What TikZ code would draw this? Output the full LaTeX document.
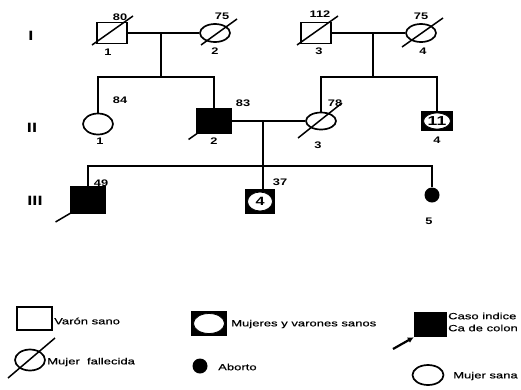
\documentclass[tikz,border=0pt]{standalone}
\usepackage{fontspec}
\setmainfont{Liberation Sans}
\newfontfamily\wf[FakeStretch=1.35]{Liberation Sans}
\newfontfamily\lf[FakeStretch=1.45,FakeBold=0.4]{Liberation Sans}
\usetikzlibrary{shapes.geometric,arrows.meta,calc}
\begin{document}
\begin{tikzpicture}[x=1pt,y=-1pt,
  ln/.style={line width=2.2pt},
  male/.style={draw,line width=1.9pt,rectangle,minimum width=30pt,minimum height=21pt,inner sep=0pt},
  female/.style={draw,line width=1.7pt,ellipse,minimum width=30pt,minimum height=18pt,inner sep=0pt},
  aff/.style={fill=black},
  multi/.style={draw,line width=1.6pt,rectangle,fill=black,inner sep=0pt},
  inner/.style={ellipse,fill=white,draw=black,line width=0.8pt,inner sep=0pt},
  dead/.style={line width=1.5pt},
  num/.style={font=\wf\bfseries\fontsize{9.5}{10}\selectfont,inner sep=0pt},
  gen/.style={font=\wf\bfseries\fontsize{13.5}{14}\selectfont,inner sep=0pt},
  leg/.style={font=\lf\fontsize{9}{12}\selectfont,inner sep=0pt,anchor=west,align=left},
]
\path[use as bounding box] (0,0) rectangle (521,389);

% generation labels
\node[gen] (gI) at (31,36) {I};
\node[gen] (gII) at (32,128) {II};
\node[gen] (gIII) at (35,201) {III};

% generation I
\node[male] (i1) at (112,33) {};
\node[female] (i2) at (215,33) {};
\node[male] (i3) at (316,33) {};
\node[female] (i4) at (421,33) {};
\draw[dead] ($(i1)+(-20,12)$) -- ($(i1)+(21,-17)$);
\draw[dead] ($(i2)+(-14,12)$) -- ($(i2)+(22,-14)$);
\draw[dead] ($(i3)+(-19,12)$) -- ($(i3)+(22,-17)$);
\draw[dead] ($(i4)+(-19,14)$) -- ($(i4)+(22,-15)$);
\node[num] (ai1) at (120,17) {80};
\node[num] (ai2) at (222,16) {75};
\node[num] (ai3) at (320,14) {112};
\node[num] (ai4) at (421,16) {75};
\node[num] (ni1) at (108,52) {1};
\node[num] (ni2) at (215,51) {2};
\node[num] (ni3) at (319,51) {3};
\node[num] (ni4) at (423,51) {4};

\coordinate (m1) at (161,33);
\coordinate (s1) at (161,77);
\coordinate (m3) at (373,33);
\coordinate (s2) at (373,77);
\draw[ln] (i1) -- (i2);
\draw[ln] (i3) -- (i4);
\draw[ln] (m1) -- (s1);
\draw[ln] (m3) -- (s2);

% generation II
\node[female,minimum height=21pt] (ii1) at (98,124) {};
\node[male,aff,minimum width=35pt,minimum height=25pt] (ii2) at (214,121) {};
\node[female,minimum height=17pt] (ii3) at (321,121) {};
\node[multi,minimum width=31pt,minimum height=19pt] (ii4) at (437,121) {};
\node[inner,minimum width=27pt,minimum height=16pt,font=\wf\bfseries\fontsize{13}{13}\selectfont] (ii4e) at (ii4) {11};
\draw[dead] ($(ii3)+(-23,17)$) -- ($(ii3)+(21,-18)$);
\draw[dead] ($(ii2.south west)+(-7,5)$) -- ($(ii2.south west)+(3,-2)$);
\node[num] (aii1) at (120,100) {84};
\node[num] (aii2) at (243,103) {83};
\node[num] (aii3) at (335,103) {78};
\node[num] (nii1) at (100,141) {1};
\node[num] (nii2) at (214,141) {2};
\node[num] (nii3) at (318,145) {3};
\node[num] (nii4) at (437,140) {4};

\draw[ln] (ii1.north) -- (ii1.north |- s1) -- (ii2.north |- s1) -- (ii2.north);
\draw[ln] (ii3.north) -- (ii3.north |- s2) -- (ii4.north |- s2) -- (ii4.north);
\draw[ln] (ii2) -- (ii3);
\coordinate (m2) at (263,121);
\coordinate (s3) at (263,166);

% generation III
\node[male,aff,minimum width=35pt,minimum height=26pt] (iii1) at (88,200) {};
\node[multi,minimum width=29pt,minimum height=23pt] (iii2) at (260,201.5) {};
\node[inner,minimum width=25pt,minimum height=19pt,font=\wf\bfseries\fontsize{12}{12}\selectfont] (iii2e) at (iii2) {4};
\node[circle,fill=black,minimum size=15pt,inner sep=0pt] (iii3) at (432,195) {};
\draw[dead] ($(iii1.south west)+(-14,8)$) -- ($(iii1.south west)+(3,-2)$);
\node[num] (aiii1) at (101,183) {49};
\node[num] (aiii2) at (280,182) {37};
\node[num] (niii3) at (429,221) {5};

\draw[ln] (m2) -- (m2 |- iii2.north);
\draw[ln] (iii1.north) -- (iii1.north |- s3) -- (iii3.north |- s3) -- (iii3.north);

% legend
\node[male,minimum width=35pt,minimum height=23pt] (l1) at (34.5,318.5) {};
\node[leg] (l1t) at (54,321) {Varón sano};
\node[multi,minimum width=34pt,minimum height=23pt] (l2) at (209,323.5) {};
\node[inner,minimum width=31pt,minimum height=20pt] (l2e) at (l2) {};
\node[leg] (l2t) at (231,324) {Mujeres y varones sanos};
\node[female,minimum width=30pt,minimum height=21pt] (l3) at (30,360) {};
\draw[dead] ($(l3)+(-22,18)$) -- ($(l3)+(25,-22)$);
\node[leg] (l3t) at (47,362) {Mujer\ \ fallecida};
\node[circle,fill=black,minimum size=15pt,inner sep=0pt] (l4) at (200,366) {};
\node[leg] (l4t) at (218,367) {Aborto};
\node[rectangle,fill=black,minimum width=33pt,minimum height=25pt,inner sep=0pt] (l5) at (430.5,324.5) {};
\node[leg] (l5t) at (448,322) {Caso indice\\Ca de colon};
\coordinate (l5a) at (393,349);
\draw[line width=2.2pt,-{Latex[length=6pt,width=6pt]}] (l5a) -- (l5.south west);
\node[female,minimum width=31pt,minimum height=20pt] (l6) at (428,375) {};
\node[leg] (l6t) at (453,376) {Mujer sana};
\end{tikzpicture}
\end{document}
